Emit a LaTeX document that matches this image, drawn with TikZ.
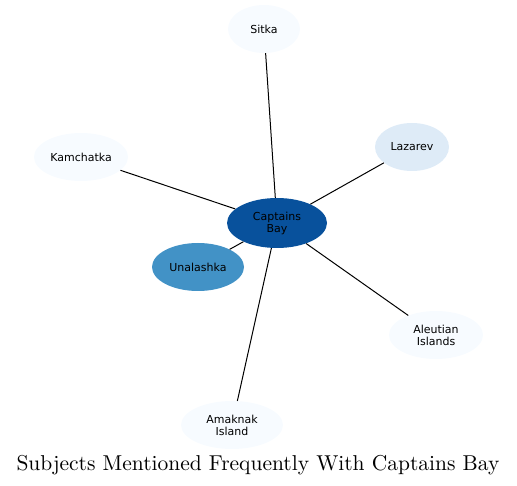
\documentclass[tikz,border=0pt]{standalone}
\usepackage{fontspec}
\newfontfamily\labelfont{DejaVu Sans}
\newfontfamily\titlefont{lmroman10-regular}[Extension=.otf]
\usetikzlibrary{shapes.geometric}
\definecolor{palest}{HTML}{F7FBFF}
\definecolor{pale}{HTML}{DEEBF7}
\definecolor{mid}{HTML}{4292C6}
\definecolor{deep}{HTML}{08519C}
\tikzset{
  topic/.style={ellipse,draw=none,fill=palest,inner sep=0pt,minimum height=48pt,
    align=center,font=\labelfont\fontsize{11}{12}\selectfont},
  link/.style={draw=black,line width=1pt}
}
\begin{document}
\begin{tikzpicture}[x=1pt,y=-1pt]
\useasboundingbox (0,0) rectangle (517,486);
\node[topic,minimum width=100pt,minimum height=50pt,fill=deep] (cb) at (277,223) {Captains\\ Bay};
\node[topic,minimum width=72pt] (sitka) at (264,29) {Sitka};
\node[topic,minimum width=94pt] (kam) at (81,157) {Kamchatka};
\node[topic,minimum width=74pt,fill=pale] (laz) at (412,147) {Lazarev};
\node[topic,minimum width=92pt,fill=mid] (una) at (198,267) {Unalashka};
\node[topic,minimum width=94pt] (aleut) at (436,335) {Aleutian\\ Islands};
\node[topic,minimum width=102pt] (amak) at (232,425) {Amaknak\\ Island};

\draw[link] (cb) -- (sitka);
\draw[link] (cb) -- (kam);
\draw[link] (cb) -- (laz);
\draw[link] (cb) -- (una);
\draw[link] (cb) -- (aleut);
\draw[link] (cb) -- (amak);

\node[font=\titlefont\fontsize{21.5}{25}\selectfont] (title) at (258,465) {Subjects Mentioned Frequently With Captains Bay};
\end{tikzpicture}
\end{document}
